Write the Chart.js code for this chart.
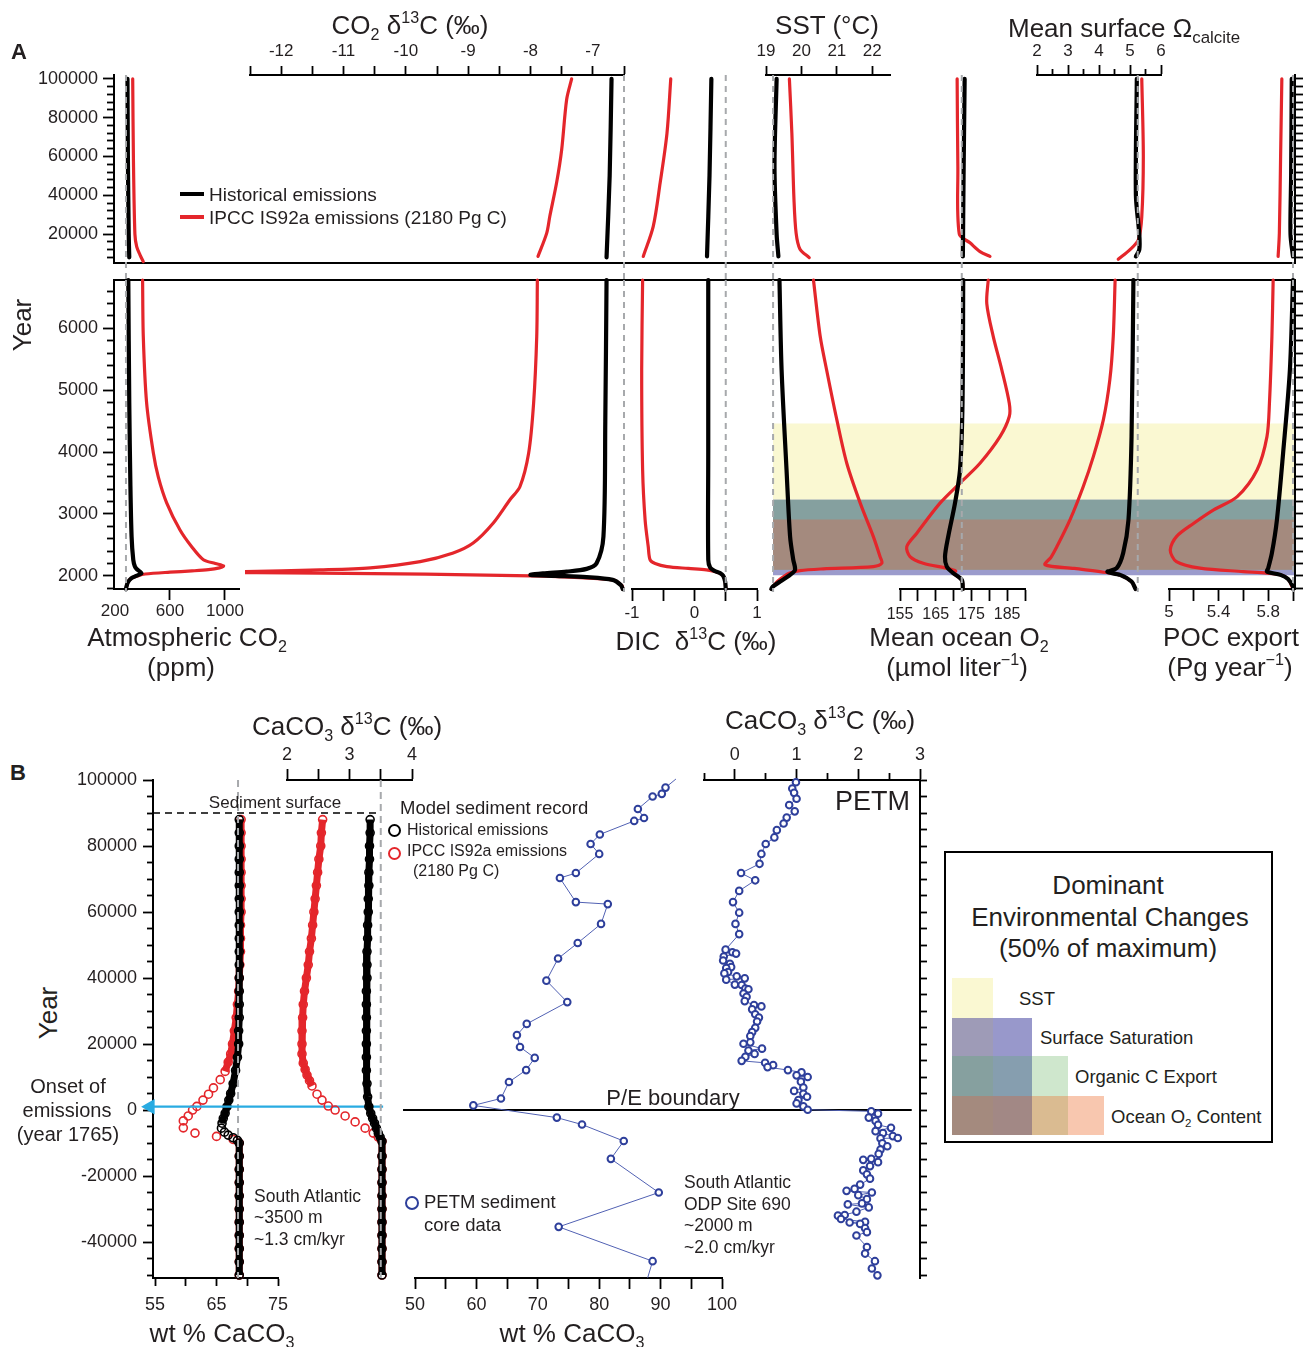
<!DOCTYPE html>
<html>
<head>
<meta charset="utf-8">
<title>Model and PETM carbon cycle profiles</title>
<script src="https://cdn.jsdelivr.net/npm/chart.js@4.4.1/dist/chart.umd.min.js"></script>
<style>
  html, body { margin: 0; padding: 0; background: #fff; }
  #fig { position: relative; width: 1304px; height: 1347px; overflow: hidden;
         font-family: "Liberation Sans", Arial, Helvetica, sans-serif; color: #231f20; }
  #fig canvas { position: absolute; }
  .t { position: absolute; white-space: nowrap; line-height: 1; }
  .t sub { font-size: 62%; vertical-align: -0.35em; line-height: 0; }
  .t sup { font-size: 62%; vertical-align: 0.7em; line-height: 0; }
  .sw { position: absolute; }
  .ring { position: absolute; border-radius: 50%; box-sizing: border-box; }
</style>
</head>
<body>
<div id="fig"></div>
<script>
// ---------------- Panel A data: [year, value] ----------------
// upper part (years 7000 - 100000) and lower part (1765 - 6800)
const co2HistUp = [[100000,291],[60000,294],[20000,300],[8000,304]];
const co2IpccUp = [[100000,329],[60000,334],[20000,345],[13600,358],[9300,382],[5800,406]];
const co2HistLo = [[1788,280],[1830,284],[1900,295],[1960,318],[2000,355],[2040,392],[2070,380],[2110,358],[2150,345],[2260,333],[2630,321],[3500,312],[4800,304],[6780,297]];
const co2IpccLo = [[1788,280],[1900,295],[1960,318],[2000,365],[2030,420],[2060,600],[2080,760],[2100,880],[2130,960],[2160,990],[2200,930],[2260,843],[2470,758],[2740,673],[3180,576],[3600,515],[3990,479],[4800,430],[5870,406],[6780,401]];

const d13HistUp = [[100000,-6.70],[50000,-6.73],[8000,-6.78]];
const d13IpccUp = [[100000,-7.34],[89400,-7.42],[63500,-7.50],[46700,-7.58],[29200,-7.69],[20500,-7.74],[8500,-7.88]];
const d13HistLo = [[1788,-6.52],[1850,-6.55],[1935,-6.68],[1980,-7.10],[2000,-7.60],[2015,-8.00],[2040,-7.80],[2069,-7.42],[2113,-7.10],[2205,-6.94],[2635,-6.83],[4500,-6.80],[6780,-6.78]];
const d13IpccLo = [[1788,-6.52],[1840,-6.53],[1935,-6.68],[2000,-7.99],[2044,-11.38],[2060,-13.8],[2070,-12.6],[2097,-11.38],[2130,-10.57],[2230,-9.77],[2370,-9.24],[2530,-8.92],[2850,-8.60],[3230,-8.33],[3440,-8.17],[3980,-8.03],[4790,-7.95],[5870,-7.90],[6780,-7.89]];

const dicHistUp = [[100000,0.27],[50000,0.24],[8500,0.20]];
const dicIpccUp = [[100000,-0.38],[72000,-0.44],[46300,-0.55],[24000,-0.66],[8500,-0.82]];
const dicHistLo = [[1788,0.50],[1908,0.49],[2000,0.46],[2044,0.41],[2080,0.32],[2134,0.25],[2260,0.22],[4000,0.22],[6780,0.22]];
const dicIpccLo = [[1788,0.50],[1908,0.49],[2000,0.46],[2044,0.40],[2070,0.32],[2097,0.19],[2120,-0.10],[2150,-0.44],[2200,-0.63],[2258,-0.71],[2470,-0.74],[2900,-0.79],[3710,-0.83],[5330,-0.845],[6780,-0.83]];

const sstHistUp = [[100000,19.30],[55000,19.24],[20000,19.30],[8500,19.35]];
const sstIpccUp = [[100000,19.66],[72000,19.73],[37700,19.79],[20500,19.85],[12200,19.96],[7900,20.22]];
const sstHistLo = [[1788,19.15],[1827,19.19],[1908,19.40],[2016,19.68],[2097,19.82],[2258,19.77],[2635,19.68],[3710,19.58],[5330,19.44],[6780,19.38]];
const sstIpccLo = [[1788,19.15],[1900,19.30],[1990,19.50],[2044,19.65],[2086,19.96],[2113,20.62],[2150,22.03],[2205,22.27],[2310,22.22],[2635,22.03],[3175,21.66],[3820,21.28],[4520,21.00],[5330,20.71],[5870,20.53],[6780,20.34]];

const o2HistUp = [[100000,173.1],[50000,172.8],[8500,172.6]];
const o2IpccUp = [[100000,171.0],[55000,171.2],[20000,171.6],[15500,174.6],[11000,177.4],[8500,180.2]];
const o2HistLo = [[1788,172.6],[1935,172.3],[2044,169.9],[2150,168.1],[2312,167.6],[2635,168.5],[3175,170.4],[3710,171.8],[4790,172.5],[6780,172.7]];
const o2IpccLo = [[1788,172.6],[1935,172.3],[2044,170.0],[2080,170.6],[2124,168.1],[2205,161.5],[2312,157.8],[2473,156.9],[2690,159.7],[3175,166.2],[3500,171.8],[3820,177.4],[4250,183.0],[4575,185.6],[4790,185.6],[5330,183.5],[5870,181.1],[6400,179.3],[6780,179.7]];

const omHistUp = [[100000,5.22],[40000,5.19],[20000,5.30],[12000,5.30],[8500,5.19]];
const omIpccUp = [[100000,5.38],[60000,5.43],[29000,5.38],[17100,5.27],[12000,5.00],[7000,4.62]];
const omHistLo = [[1788,5.18],[1908,5.05],[2016,4.68],[2065,4.27],[2124,4.57],[2370,4.78],[2900,4.95],[4250,5.05],[6780,5.11]];
const omIpccLo = [[1788,5.18],[1908,5.05],[2016,4.68],[2055,4.25],[2120,3.20],[2180,2.26],[2300,2.45],[2470,2.64],[2900,3.06],[3440,3.49],[3930,3.82],[4520,4.14],[5170,4.35],[5870,4.46],[6780,4.52]];

const pocHistUp = [[100000,5.99],[50000,5.985],[20000,5.98],[8500,6.0]];
const pocIpccUp = [[100000,5.91],[60000,5.90],[20500,5.89],[8500,5.88]];
const pocHistLo = [[1788,6.0],[1827,6.0],[1950,5.96],[2016,5.90],[2070,5.79],[2124,5.80],[2370,5.83],[2900,5.87],[3980,5.92],[5330,5.975],[6780,6.0]];
const pocIpccLo = [[1788,6.0],[1950,5.96],[2016,5.90],[2044,5.79],[2070,5.60],[2124,5.25],[2230,5.06],[2420,5.01],[2635,5.06],[2850,5.20],[3066,5.36],[3280,5.55],[3710,5.71],[4250,5.79],[4790,5.81],[5870,5.83],[6780,5.84]];

// pre-industrial values (dashed grey lines), in column order
const preindustrial = [280, -6.5, 0.5, 19.2, 172.3, 5.25, 6.0];

// dominant environmental changes (50% of maximum), years
const bandNames  = ['SST', 'Surface Saturation', 'Organic C Export', 'Ocean O2 Content'];
const bandStart  = [2100, 2010, 2100, 2100];
const bandEnd    = [4460, 3230, 3230, 2910];
const bandColors = ['#faf8d2', '#9b9bcc', '#85a09f', '#a48a7e'];

// ---------------- Panel B data: [year, value] ----------------
const histWt = [[88000,68.7],[84000,68.7],[80000,68.7],[76000,68.7],[72000,68.7],[68000,68.7],[64000,68.7],[60000,68.7],[56000,68.7],[52000,68.7],[48000,68.7],[44000,68.7],[40000,68.7],[36000,68.7],[32000,68.7],[28000,68.7],[24000,68.6],[20000,68.6],[16000,68.4],[12000,68.1],[8000,67.7],[5000,67.3],[3000,67.0],[1000,66.7],[-1000,66.4],[-2500,66.1],[-4000,65.9],[-5500,65.8],[-6700,66.3],[-7600,66.9],[-8400,67.7],[-9200,68.4],[-10000,68.7],[-14000,68.7],[-18000,68.7],[-22000,68.7],[-26000,68.7],[-30000,68.7],[-34000,68.7],[-38000,68.7],[-42000,68.7],[-46000,68.7],[-50000,68.7]];
const ipccWt = [[88000,69.0],[84000,69.0],[80000,69.0],[76000,69.0],[72000,69.0],[68000,69.0],[64000,69.0],[60000,69.0],[56000,68.9],[52000,68.9],[48000,68.9],[44000,68.8],[40000,68.7],[36000,68.6],[32000,68.4],[28000,68.2],[24000,67.9],[20000,67.6],[17000,67.3],[14500,66.9],[11700,66.4],[9200,65.6],[6700,64.5],[4800,63.7],[3000,62.8],[1100,61.8],[0,61.1],[-1800,60.4],[-3300,59.6],[-5400,59.6],[-7000,61.5],[-8000,65.0],[-8900,67.7],[-10000,68.7],[-14000,68.7],[-18000,68.7],[-22000,68.7],[-26000,68.7],[-30000,68.7],[-34000,68.7],[-38000,68.7],[-42000,68.7],[-46000,68.7],[-50000,68.7]];
const histIso = [[88000,3.33],[84000,3.33],[80000,3.32],[76000,3.32],[72000,3.31],[68000,3.31],[64000,3.30],[60000,3.30],[56000,3.29],[52000,3.29],[48000,3.28],[44000,3.28],[40000,3.28],[36000,3.27],[32000,3.27],[28000,3.27],[24000,3.27],[20000,3.27],[16000,3.27],[12000,3.27],[8000,3.28],[4000,3.29],[1000,3.31],[-1000,3.34],[-2500,3.37],[-4000,3.40],[-5500,3.43],[-7000,3.46],[-8200,3.49],[-9500,3.52],[-14000,3.52],[-18000,3.52],[-22000,3.52],[-26000,3.52],[-30000,3.52],[-34000,3.52],[-38000,3.52],[-42000,3.52],[-46000,3.52],[-50000,3.52]];
const ipccIso = [[88000,2.57],[84000,2.55],[80000,2.54],[76000,2.51],[72000,2.49],[68000,2.47],[64000,2.45],[60000,2.43],[56000,2.41],[52000,2.39],[48000,2.36],[44000,2.34],[40000,2.31],[36000,2.28],[32000,2.26],[28000,2.25],[24000,2.24],[20000,2.24],[17000,2.24],[14200,2.26],[12300,2.29],[10600,2.32],[8900,2.36],[7300,2.40],[4800,2.48],[3000,2.56],[1200,2.66],[0,2.77],[-1800,2.93],[-3600,3.09],[-5500,3.25],[-7000,3.38],[-8200,3.46],[-9500,3.52],[-14000,3.52],[-18000,3.52],[-22000,3.52],[-26000,3.52],[-30000,3.52],[-34000,3.52],[-38000,3.52],[-42000,3.52],[-46000,3.52],[-50000,3.52]];

// PETM core, ODP Site 690 (first and last entries: where the trace leaves the frame)
const petmWt = [[100300,92.5],[97700,90.8],[95800,90.2],[95000,88.7],[91200,86.3],[88500,87.3],[87600,85.7],[83500,80.1],[80600,78.6],[77600,80.0],[71800,76.2],[70300,73.6],[63000,76.2],[62400,81.4],[56400,80.3],[50600,76.5],[45900,73.3],[39200,71.4],[32700,74.8],[26100,68.2],[22700,66.6],[19100,67.1],[15800,69.5],[12100,68.1],[8500,65.3],[3500,64.0],[1400,59.5],[-2300,73.1],[-4400,77.2],[-9400,84.0],[-14800,81.9],[-25000,89.7],[-35400,73.4],[-45800,88.7],[-50800,87.9]];
const petmIso = [[99300,0.99],[97400,0.93],[96100,0.96],[94300,1.00],[92400,0.88],[90500,0.97],[88600,0.84],[86800,0.79],[84800,0.68],[82600,0.64],[80600,0.50],[77600,0.43],[74600,0.40],[71800,0.10],[69600,0.33],[66400,0.07],[63000,-0.03],[59800,0.07],[56400,0.01],[53300,0.07],[48600,-0.15],[47800,-0.04],[47400,0.02],[46500,-0.18],[45300,-0.19],[44300,-0.08],[43300,-0.06],[43000,-0.14],[41800,-0.11],[41400,-0.17],[40500,0.03],[39900,0.16],[39500,-0.14],[38000,0.00],[37900,0.11],[36800,0.17],[36600,0.22],[35300,0.14],[34300,0.19],[33000,0.16],[31800,0.31],[31400,0.43],[30500,0.28],[29000,0.33],[28000,0.39],[26800,0.36],[24900,0.33],[23600,0.28],[22400,0.25],[20500,0.25],[20100,0.14],[18600,0.44],[18000,0.22],[17000,0.32],[16100,0.17],[14900,0.11],[14300,0.49],[13600,0.62],[13000,0.53],[12100,0.86],[11400,1.08],[10500,1.00],[10000,1.18],[8600,1.07],[6800,1.11],[5800,0.96],[4900,1.11],[4000,1.17],[3000,1.03],[2000,1.00],[1100,1.11],[100,1.18],
  [-400,2.21],[-1100,2.32],[-2300,2.17],[-3300,2.28],[-4500,2.32],[-5400,2.53],[-6400,2.28],[-7000,2.40],[-7900,2.56],[-8500,2.64],[-8600,2.36],[-10100,2.39],[-11000,2.47],[-12000,2.36],[-13300,2.33],[-14800,2.21],[-15100,2.08],[-15800,2.32],[-17000,2.19],[-18300,2.08],[-19500,2.14],[-20800,2.19],[-22600,2.03],[-23900,1.94],[-24500,1.81],[-25000,2.22],[-25800,2.00],[-27000,2.14],[-28300,2.06],[-28600,1.83],[-29500,2.17],[-30800,1.97],[-31800,1.78],[-32000,1.67],[-33000,1.72],[-33900,2.11],[-34100,1.86],[-34500,2.03],[-35800,2.11],[-37000,2.14],[-38000,1.97],[-41500,2.14],[-43500,2.11],[-45800,2.27],[-48000,2.22],[-50100,2.31]];

// ---------------- helpers ----------------
const fig = document.getElementById('fig');
const INK = '#231f20', RED = '#e4262b', GRAY = '#a7a9ac', BLUE = '#2e3f9b', BLUE_LINE = '#5161b3';
const FONT = '"Liberation Sans", Arial, Helvetica, sans-serif';
Chart.defaults.font.family = FONT;
Chart.defaults.color = INK;
Chart.defaults.elements.line.capBezierPoints = false;

function steps(a, b, s) {
  const out = [];
  for (let v = a; v <= b + 1e-9; v += s) out.push(Math.round(v * 1000) / 1000);
  return out;
}

// a visible axis whose box takes no room, so the chart area is exactly what we ask for
function scale(pos, min, max, ticks, o = {}) {
  const labels = o.labels || [];
  const hide = o.hide || [];
  return {
    type: 'linear', position: pos, min, max,
    afterBuildTicks: s => { s.ticks = ticks.map(v => ({ value: v })); },
    afterFit: s => {
      if (s.isHorizontal()) s.height = 0; else s.width = 0;
      s.paddingLeft = s.paddingRight = s.paddingTop = s.paddingBottom = 0;
    },
    grid: {
      drawOnChartArea: false, drawTicks: ticks.length > 0,
      tickLength: o.len ?? 9, tickWidth: o.tw ?? 1.8,
      tickColor: c => (c.tick && hide.includes(c.tick.value)) ? 'rgba(0,0,0,0)' : '#000'
    },
    border: { display: o.border !== false, color: '#000', width: o.bw ?? 2 },
    ticks: {
      display: labels.length > 0, autoSkip: false, maxRotation: 0, minRotation: 0,
      padding: o.pad ?? 3, color: INK, font: { family: FONT, size: o.size ?? 17 },
      callback: v => labels.some(l => Math.abs(l - v) < 1e-9) ? String(v) : ''
    }
  };
}
function hidden(min, max) { return { type: 'linear', display: false, min, max }; }

// after layout, open each axis box outward so its tick labels are not clipped away
const labelRoom = {
  id: 'labelRoom',
  afterLayout(chart) {
    Object.values(chart.scales).forEach(s => {
      if (!s.options.display) return;
      const p = s.options.position;
      if (p === 'left') s.left = 0;
      else if (p === 'right') s.right = chart.width;
      else if (p === 'top') s.top = 0;
      else if (p === 'bottom') s.bottom = chart.height;
    });
  }
};

function chartAt(area, pad, scales, datasets) {
  const [l, t, r, b] = area, [pt, pr, pb, pl] = pad;
  const w = r - l + pl + pr, h = b - t + pt + pb;
  const cv = document.createElement('canvas');
  cv.width = w; cv.height = h;
  Object.assign(cv.style, { left: (l - pl) + 'px', top: (t - pt) + 'px', width: w + 'px', height: h + 'px' });
  fig.appendChild(cv);
  // first dataset in the list is drawn first (bottom)
  datasets.forEach((d, i) => { d.order = datasets.length - i; });
  return new Chart(cv, {
    type: 'line',
    data: { datasets },
    options: {
      responsive: false, maintainAspectRatio: false, animation: false, devicePixelRatio: 1, events: [],
      layout: { padding: { top: pt, right: pr, bottom: pb, left: pl } },
      plugins: { legend: { display: false }, tooltip: { enabled: false } },
      scales
    },
    plugins: [labelRoom]
  });
}

function profile(pairs, color, width, extra) {
  return Object.assign({
    data: pairs.map(([yr, v]) => ({ x: v, y: yr })),
    borderColor: color, borderWidth: width, pointRadius: 0, tension: 0.3, fill: false, clip: false,
    borderCapStyle: 'round', borderJoinStyle: 'round'
  }, extra || {});
}
function vline(v, y0, y1, color, dash, width) {
  return { data: [{ x: v, y: y0 }, { x: v, y: y1 }], borderColor: color, borderWidth: width,
           borderDash: dash, pointRadius: 0, tension: 0, clip: false, fill: false };
}
function hline(y, x0, x1, color, dash, width) {
  return { data: [{ x: x0, y }, { x: x1, y }], borderColor: color, borderWidth: width,
           borderDash: dash, pointRadius: 0, tension: 0, clip: false, fill: false };
}

function label(html, x, y, size, align, extra) {
  const d = document.createElement('div');
  d.className = 't';
  d.innerHTML = html;
  d.style.fontSize = size + 'px';
  d.style.left = x + 'px';
  d.style.top = y + 'px';
  const tx = align === 'l' ? '0' : align === 'r' ? '-100%' : '-50%';
  d.style.transform = `translate(${tx}, -50%)` + (extra || '');
  fig.appendChild(d);
  return d;
}
function box(cls, x, y, w, h, css) {
  const d = document.createElement('div');
  d.className = cls;
  Object.assign(d.style, { left: x + 'px', top: y + 'px', width: w + 'px', height: h + 'px' }, css || {});
  fig.appendChild(d);
  return d;
}

// ---------------- Panel A ----------------
const SECT = [
  { key: 'Up', top: 75,  bottom: 263, min: 5100, max: 102000, dash: [102000, -3700],
    major: [20000, 40000, 60000, 80000, 100000], minor: steps(8000, 100000, 4000).filter(v => v % 20000) },
  { key: 'Lo', top: 280, bottom: 589, min: 1788, max: 6780, dash: [6780, 1740],
    major: [2000, 3000, 4000, 5000, 6000], minor: steps(1800, 6600, 200).filter(v => v % 1000) }
];
const DATA = {
  co2: { Up: [co2HistUp, co2IpccUp], Lo: [co2HistLo, co2IpccLo] },
  d13: { Up: [d13HistUp, d13IpccUp], Lo: [d13HistLo, d13IpccLo] },
  dic: { Up: [dicHistUp, dicIpccUp], Lo: [dicHistLo, dicIpccLo] },
  sst: { Up: [sstHistUp, sstIpccUp], Lo: [sstHistLo, sstIpccLo] },
  o2:  { Up: [o2HistUp,  o2IpccUp],  Lo: [o2HistLo,  o2IpccLo] },
  om:  { Up: [omHistUp,  omIpccUp],  Lo: [omHistLo,  omIpccLo] },
  poc: { Up: [pocHistUp, pocIpccUp], Lo: [pocHistLo, pocIpccLo] }
};
const COLS = [
  { name: 'co2', x0: 114,  x1: 239,  min: 193,   max: 1102, side: 'bottom', major: [200, 600, 1000], labels: [200, 600, 1000], hide: [200], len: 11, pad: 1 },
  { name: 'd13', x0: 250,  x1: 624,  min: -12.5, max: -6.5, side: 'top',    major: steps(-12.5, -6.5, 0.5), labels: [-12, -11, -10, -9, -8, -7], len: 9, pad: 4 },
  { name: 'dic', x0: 632,  x1: 757,  min: -1,    max: 1,    side: 'bottom', major: steps(-1, 1, 0.5), labels: [-1, 0, 1], len: 12, pad: 2 },
  { name: 'sst', x0: 766,  x1: 890,  min: 19,    max: 22.5, side: 'top',    major: [19, 20, 21, 22], labels: [19, 20, 21, 22], len: 9, pad: 4 },
  { name: 'o2',  x0: 900,  x1: 1025, min: 155,   max: 190,  side: 'bottom', major: steps(155, 190, 5), labels: [155, 165, 175, 185], len: 12, pad: 4, size: 16 },
  { name: 'om',  x0: 1037, x1: 1161, min: 2,     max: 6,    side: 'top',    major: [2, 3, 4, 5, 6], minor: [2.5, 3.5, 4.5, 5.5], labels: [2, 3, 4, 5, 6], len: 10, pad: 3 },
  { name: 'poc', x0: 1169, x1: 1293, min: 5,     max: 6,    side: 'bottom', major: steps(5, 6, 0.2), labels: [5, 5.4, 5.8], len: 12, pad: 1 }
];

// coloured bands of dominant change (lower part, from SST column to the right edge)
chartAt([773, 280, 1295, 589], [5, 5, 5, 5],
  { x: hidden(0, 1), y: hidden(SECT[1].min, SECT[1].max) },
  bandNames.map((n, i) => ({
    data: [{ x: 0, y: bandEnd[i] }, { x: 1, y: bandEnd[i] }],
    borderColor: 'rgba(0,0,0,0)', borderWidth: 0, pointRadius: 0, tension: 0,
    fill: { value: bandStart[i] }, backgroundColor: bandColors[i]
  })));

// frames with the year axes
SECT.forEach((sec, si) => {
  chartAt([114, sec.top, 1295, sec.bottom], [30, 20, 30, 90], {
    x: scale(si === 0 ? 'bottom' : 'top', 0, 1, []),
    y: scale('left', sec.min, sec.max, sec.major, { labels: sec.major, len: 11, pad: 5, size: 18 }),
    ym: scale('left', sec.min, sec.max, sec.minor, { len: 7, border: false }),
    yr: scale('right', sec.min, sec.max, sec.major.concat(sec.minor), { len: 8 })
  }, []);
});

// one chart per variable and per part
SECT.forEach((sec, si) => {
  COLS.forEach((c, ci) => {
    const [hist, ipcc] = DATA[c.name][sec.key];
    const showAxis = (c.side === 'top') === (si === 0);
    const scales = { y: hidden(sec.min, sec.max) };
    scales.x = showAxis
      ? scale(c.side, c.min, c.max, c.major, { labels: c.labels, len: c.len, pad: c.pad, size: c.size, hide: c.hide })
      : hidden(c.min, c.max);
    if (showAxis && c.minor) scales.xm = scale(c.side, c.min, c.max, c.minor, { len: 6, border: false });
    const redExtra = (c.name === 'd13' && si === 1) ? { clip: { left: 5, top: 5, right: 10, bottom: 5 } } : {};
    chartAt([c.x0, sec.top, c.x1, sec.bottom], [45, 20, 45, 20], scales, [
      profile(ipcc, RED, 3.2, redExtra),
      profile(hist, '#000', 4.2),
      vline(preindustrial[ci], sec.dash[0], sec.dash[1], GRAY, [6, 5], 2)
    ]);
  });
});

// ---------------- Panel B ----------------
const BY = { min: -50900, max: 100000 };
const bYearMajor = [100000, 80000, 60000, 40000, 20000, 0, -20000, -40000];
const bYearMinor = steps(-50000, 100000, 5000).filter(v => v % 20000);
const bYearAll = steps(-50000, 100000, 5000);

function sedimentSeries(pairs, color, dense) {
  const data = pairs.map(([yr, v]) => ({ x: v, y: yr }));
  const isDense = y => y >= dense[0] || y <= dense[1];
  return [
    { data, borderColor: color, borderWidth: 7, pointRadius: 0, tension: 0, clip: false, fill: false,
      segment: { borderColor: s => (isDense(s.p0.parsed.y) && isDense(s.p1.parsed.y)) ? color : 'rgba(0,0,0,0)' } },
    { data, showLine: false, pointRadius: 4, pointBorderWidth: 1.6, pointBorderColor: color,
      pointBackgroundColor: 'rgba(0,0,0,0)', clip: false, fill: false }
  ];
}
function coreSeries(pairs, ends) {
  const last = pairs.length - 1;
  return {
    data: pairs.map(([yr, v]) => ({ x: v, y: yr })),
    borderColor: BLUE_LINE, borderWidth: 1, tension: 0, clip: false, fill: false,
    pointRadius: c => (ends && (c.dataIndex === 0 || c.dataIndex === last)) ? 0 : 3.3,
    pointBorderWidth: 2, pointBorderColor: BLUE, pointBackgroundColor: '#fff'
  };
}

// model sediment: wt % CaCO3
chartAt([153, 780, 278, 1278], [40, 130, 50, 90], {
  x: scale('bottom', 54.67, 75, [55, 60, 65, 70, 75], { labels: [55, 65, 75], len: 8, pad: 8, size: 18 }),
  y: scale('left', BY.min, BY.max, bYearMajor, { labels: bYearMajor, len: 10, pad: 6, size: 18 }),
  ym: scale('left', BY.min, BY.max, bYearMinor, { len: 6, border: false })
}, [
  ...sedimentSeries(ipccWt, RED, [11700, -10000]),
  ...sedimentSeries(histWt, '#000', [-4000, -9200]),
  vline(68.5, BY.max, BY.min, GRAY, [7, 5], 2),
  hline(90000, 54.67, 91.3, '#000', [7, 5], 1.6),
  { data: [{ x: 54.2, y: 1000 }, { x: 92.1, y: 1000 }], borderColor: '#29abe2', borderWidth: 2.2, tension: 0,
    clip: false, fill: false, pointStyle: 'triangle', pointRotation: -90, pointRadius: [9, 0],
    pointBackgroundColor: '#29abe2', pointBorderColor: '#29abe2', pointBorderWidth: 0 }
]);

// model sediment: CaCO3 d13C
chartAt([287, 780, 412, 1278], [45, 20, 20, 20], {
  x: scale('top', 2, 4, [2, 3, 4], { labels: [2, 3, 4], len: 11, pad: 3, size: 18 }),
  xm: scale('top', 2, 4, [2.5, 3.5], { len: 11, border: false }),
  y: hidden(BY.min, BY.max)
}, [
  ...sedimentSeries(ipccIso, RED, [7300, -9500]),
  ...sedimentSeries(histIso, '#000', [-Infinity, Infinity]),
  vline(3.5, BY.max, BY.min, GRAY, [7, 5], 2)
]);

// PETM core: wt % CaCO3
chartAt([415, 780, 722, 1278], [20, 200, 50, 20], {
  x: scale('bottom', 50, 100, steps(50, 100, 5), { labels: [50, 60, 70, 80, 90, 100], len: 11, pad: 5, size: 18 }),
  y: hidden(BY.min, BY.max)
}, [
  hline(0, 48.05, 130.9, '#000', [], 2),
  coreSeries(petmWt, true)
]);

// PETM core: CaCO3 d13C, with the right-hand frame
chartAt([704, 780, 920, 1278], [45, 20, 20, 20], {
  x: scale('top', -0.5, 3, [0, 1, 2, 3], { labels: [0, 1, 2, 3], len: 11, pad: 3, size: 18 }),
  xm: scale('top', -0.5, 3, [-0.5, 0.5, 1.5, 2.5], { len: 7, border: false }),
  y: hidden(BY.min, BY.max),
  yr: scale('right', BY.min, BY.max, bYearAll, { len: 7 })
}, [
  coreSeries(petmIso, false)
]);

// ---------------- text ----------------
// panel A
label('<b>A</b>', 11, 52, 22, 'l');
label('CO<sub>2</sub> δ<sup>13</sup>C (‰)', 410, 25, 26);
label('SST (°C)', 827, 25, 26);
label('Mean surface Ω<sub style="font-size:65%">calcite</sub>', 1008, 28, 26, 'l');
label('Year', 22, 325, 26, 'c', ' rotate(-90deg)');
box('sw', 180, 192, 24, 4, { background: '#000' });
label('Historical emissions', 209, 194, 19, 'l');
box('sw', 180, 215, 24, 4, { background: RED });
label('IPCC IS92a emissions (2180 Pg C)', 209, 217, 19, 'l');
label('Atmospheric CO<sub>2</sub>', 187, 637, 26);
label('(ppm)', 181, 667, 26);
label('DIC&nbsp; δ<sup>13</sup>C (‰)', 696, 641, 26);
label('Mean ocean O<sub>2</sub>', 959, 637, 26);
label('(µmol liter<sup>−1</sup>)', 957, 667, 26);
label('POC export', 1231, 637, 26);
label('(Pg year<sup>−1</sup>)', 1230, 667, 26);

// panel B
label('<b>B</b>', 10, 773, 22, 'l');
label('CaCO<sub>3</sub> δ<sup>13</sup>C (‰)', 347, 726, 26);
label('CaCO<sub>3</sub> δ<sup>13</sup>C (‰)', 820, 720, 26);
label('Year', 48, 1013, 26, 'c', ' rotate(-90deg)');
label('Onset of', 68, 1086, 20);
label('emissions', 67, 1110, 20);
label('(year 1765)', 68, 1134, 20);
label('Sediment surface', 275, 802, 17);
label('Model sediment record', 400, 808, 18.5, 'l');
box('ring', 388, 824, 13, 13, { border: '2px solid #000' });
label('Historical emissions', 407, 830, 16, 'l');
box('ring', 388, 847, 13, 13, { border: '2px solid ' + RED });
label('IPCC IS92a emissions', 407, 851, 16, 'l');
label('(2180 Pg C)', 413, 871, 16, 'l');
label('PETM', 835, 801, 27, 'l');
label('P/E boundary', 673, 1098, 22);
label('South Atlantic', 254, 1197, 17.5, 'l');
label('~3500 m', 254, 1218, 17.5, 'l');
label('~1.3 cm/kyr', 254, 1240, 17.5, 'l');
box('ring', 405, 1196, 14, 14, { border: '2px solid ' + BLUE });
label('PETM sediment', 424, 1202, 18.5, 'l');
label('core data', 424, 1225, 18.5, 'l');
label('South Atlantic', 684, 1183, 17.5, 'l');
label('ODP Site 690', 684, 1205, 17.5, 'l');
label('~2000 m', 684, 1226, 17.5, 'l');
label('~2.0 cm/kyr', 684, 1248, 17.5, 'l');
label('wt % CaCO<sub>3</sub>', 222, 1333, 26);
label('wt % CaCO<sub>3</sub>', 572, 1333, 26);

// legend of the coloured bands
box('sw', 944, 851, 329, 292, { border: '2px solid #000', boxSizing: 'border-box' });
label('Dominant', 1108, 885, 26);
label('Environmental Changes', 1110, 917, 26);
label('(50% of maximum)', 1108, 948, 26);
const swatchRows = [
  [[952, 993, '#faf8d2']],
  [[952, 993, '#9e9bb7'], [993, 1032, '#9898cb']],
  [[952, 993, '#86a09f'], [993, 1032, '#869eaf'], [1032, 1068, '#cfe7cd']],
  [[952, 993, '#a48a7e'], [993, 1032, '#a28885'], [1032, 1068, '#dabb91'], [1068, 1104, '#f8c7af']]
];
const swatchY = [978, 1018, 1056, 1096, 1135];
swatchRows.forEach((row, r) => row.forEach(([a, b, col]) =>
  box('sw', a, swatchY[r], b - a, swatchY[r + 1] - swatchY[r], { background: col })));
label('SST', 1019, 999, 18.5, 'l');
label('Surface Saturation', 1040, 1038, 18.5, 'l');
label('Organic C Export', 1075, 1077, 18.5, 'l');
label('Ocean O<sub>2</sub> Content', 1111, 1117, 18.5, 'l');
</script>
</body>
</html>
